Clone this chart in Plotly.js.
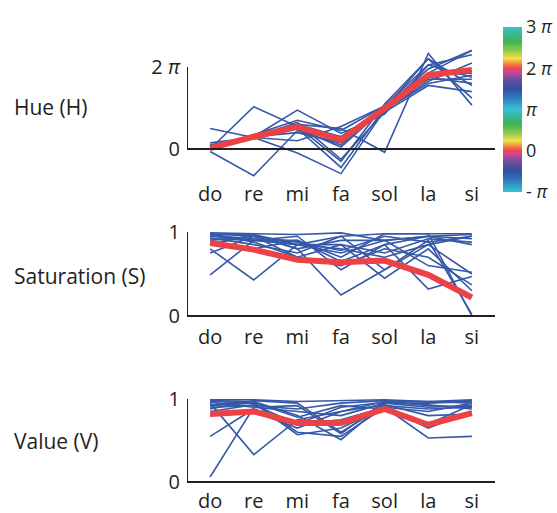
<!DOCTYPE html>
<html>
<head>
<meta charset="utf-8">
<script src="https://cdn.plot.ly/plotly-3.0.1.min.js"></script>
<style>html,body{margin:0;padding:0;background:#fff;}#chart{width:557px;height:513px;}</style>
</head>
<body>
<div id="chart"></div>
<script>
// ---- data ----
const notes = ['do', 're', 'mi', 'fa', 'sol', 'la', 'si'];

// Hue values in units of pi
const hueLines = [
  [0.00, 1.03, 0.55, 0.30, 1.00, 2.20, 1.55],
  [-0.06, -0.65, 0.45, 0.10, 1.02, 1.95, 2.41],
  [0.50, 0.28, -0.10, -0.60, 0.95, 1.60, 1.80],
  [0.05, 0.30, 0.95, 0.38, 0.85, 2.05, 2.30],
  [0.10, 0.25, 0.60, 0.50, -0.08, 2.33, 1.07],
  [0.02, 0.25, 0.50, -0.45, 1.00, 1.70, 1.70],
  [0.15, 0.28, 0.65, -0.25, 0.90, 1.55, 1.40],
  [0.00, 0.35, 0.70, 0.45, 1.05, 1.85, 2.40],
  [0.03, 0.30, 0.40, 0.15, 0.95, 1.75, 1.60],
  [0.00, 0.32, 0.55, -0.30, 1.10, 2.20, 1.24],
  [0.05, 0.25, 0.60, 0.30, 0.95, 1.65, 2.10],
  [0.00, 0.30, 0.50, 0.05, 1.00, 1.80, 1.85],
  [0.02, 0.28, 0.20, 0.55, 1.05, 2.05, 1.75]
];
const hueMean = [0.02, 0.30, 0.54, 0.22, 0.99, 1.80, 1.93];

const satLines = [
  [0.49, 0.90, 0.85, 0.75, 0.90, 0.95, 0.97],
  [0.80, 0.43, 0.85, 0.80, 0.70, 0.85, 0.95],
  [0.98, 0.95, 0.80, 0.25, 0.55, 0.85, 0.50],
  [0.95, 0.90, 0.90, 0.65, 0.85, 0.32, 0.47],
  [0.97, 0.97, 0.85, 0.95, 0.98, 0.98, 0.98],
  [0.93, 0.85, 0.75, 0.95, 0.55, 0.90, 0.02],
  [0.90, 0.95, 0.70, 0.60, 0.80, 0.70, 0.37],
  [0.99, 0.98, 0.97, 0.99, 0.90, 0.95, 0.85],
  [0.88, 0.80, 0.90, 0.70, 0.98, 0.98, 0.00],
  [0.96, 0.92, 0.85, 0.85, 0.45, 0.80, 0.30],
  [0.92, 0.90, 0.95, 0.55, 0.85, 0.95, 0.92],
  [0.85, 0.97, 0.80, 0.90, 0.90, 0.60, 0.52],
  [0.98, 0.88, 0.70, 0.85, 0.75, 0.92, 0.88],
  [0.75, 0.95, 0.88, 0.78, 0.95, 0.88, 0.95]
];
const satMean = [0.87, 0.79, 0.67, 0.64, 0.66, 0.49, 0.22];

const valLines = [
  [0.06, 0.90, 0.85, 0.80, 0.95, 0.90, 0.92],
  [0.55, 0.88, 0.70, 0.75, 0.90, 0.85, 0.95],
  [0.95, 0.33, 0.75, 0.85, 0.97, 0.92, 0.90],
  [0.97, 0.95, 0.57, 0.65, 0.90, 0.53, 0.55],
  [0.98, 0.97, 0.80, 0.51, 0.95, 0.95, 0.97],
  [0.92, 0.95, 0.60, 0.55, 0.90, 0.65, 0.85],
  [0.90, 0.92, 0.88, 0.95, 0.98, 0.96, 0.98],
  [0.88, 0.98, 0.95, 0.60, 0.92, 0.88, 0.90],
  [0.85, 0.93, 0.70, 0.90, 0.96, 0.93, 0.88],
  [0.96, 0.90, 0.92, 0.58, 0.97, 0.97, 0.95],
  [0.93, 0.96, 0.78, 0.92, 0.88, 0.70, 0.93],
  [0.99, 0.99, 0.97, 0.98, 0.99, 0.97, 0.99],
  [0.80, 0.85, 0.65, 0.85, 0.93, 0.80, 0.82]
];
const valMean = [0.82, 0.85, 0.71, 0.71, 0.88, 0.69, 0.83];

const hueTickVals = [0, 2];
const hueTickText = ['0', '2 <i>π</i>'];
const unitTickVals = [0, 1];
const unitTickText = ['0', '1'];
const cbTickVals = [-1, 0, 1, 2, 3];
const cbTickText = ['- <i>π</i>', '0', '<i>π</i>', '2 <i>π</i>', '3 <i>π</i>'];
const panelLabels = ['Hue (H)', 'Saturation (S)', 'Value (V)'];

// ---- styling ----
const BLUE = '#3558a8';
const RED = '#ec4145';
const AX = '#231f20';
const FONT = 'Open Sans, sans-serif';
const xIdx = notes.map((_, i) => i);

const traces = [];
function addPanel(lines, mean, xa, ya) {
  lines.forEach(l => traces.push({
    x: xIdx, y: l, xaxis: xa, yaxis: ya, type: 'scatter', mode: 'lines',
    line: {color: BLUE, width: 1.6}, hoverinfo: 'skip', showlegend: false
  }));
  traces.push({
    x: xIdx, y: mean, xaxis: xa, yaxis: ya, type: 'scatter', mode: 'lines',
    line: {color: RED, width: 6}, hoverinfo: 'skip', showlegend: false
  });
}
addPanel(hueLines, hueMean, 'x', 'y');
addPanel(satLines, satMean, 'x2', 'y2');
addPanel(valLines, valMean, 'x3', 'y3');

// colorbar dummy trace
traces.push({
  x: [null], y: [null], type: 'scatter', mode: 'markers', xaxis: 'x', yaxis: 'y',
  hoverinfo: 'skip', showlegend: false,
  marker: {
    color: [-1, 3], cmin: -1, cmax: 3, showscale: true,
    colorscale: [
      [0.000, '#36c2d6'],
      [0.083, '#2f6fb8'],
      [0.125, '#3050a0'],
      [0.180, '#6a4fa0'],
      [0.210, '#a04a9c'],
      [0.235, '#e0428e'],
      [0.250, '#ea4550'],
      [0.280, '#f29040'],
      [0.310, '#f2e04a'],
      [0.360, '#8cc850'],
      [0.410, '#3fb44e'],
      [0.460, '#38b89a'],
      [0.500, '#36c2d6'],
      [0.583, '#2f6fb8'],
      [0.625, '#3050a0'],
      [0.680, '#6a4fa0'],
      [0.710, '#a04a9c'],
      [0.735, '#e0428e'],
      [0.750, '#ea4550'],
      [0.780, '#f29040'],
      [0.810, '#f2e04a'],
      [0.860, '#8cc850'],
      [0.910, '#3fb44e'],
      [0.960, '#38b89a'],
      [1.000, '#45c0c0']
    ],
    colorbar: {
      x: 503 / 557, xanchor: 'left', xref: 'paper',
      y: 1 - 109.5 / 513, yanchor: 'middle',
      len: 165, lenmode: 'pixels', thickness: 19, thicknessmode: 'pixels',
      outlinewidth: 0, ticks: '', tickvals: cbTickVals, ticktext: cbTickText,
      tickfont: {family: FONT, size: 18, color: AX}, ypad: 0, xpad: 0
    }
  }
});

const TICKSZ = 20;
const xBase = {
  range: [-0.53, 6.53], domain: [187 / 557, 495 / 557],
  tickvals: xIdx, ticktext: notes, ticks: '', showgrid: false, zeroline: false,
  showline: false, tickfont: {family: FONT, size: TICKSZ, color: AX}, fixedrange: true
};
const yBase = {
  ticks: '', showgrid: false, zeroline: false, showline: false,
  tickfont: {family: FONT, size: TICKSZ, color: AX}, ticklabelstandoff: 6, fixedrange: true
};

const layout = {
  width: 557, height: 513,
  margin: {l: 0, r: 0, t: 0, b: 0},
  paper_bgcolor: '#fff', plot_bgcolor: 'rgba(0,0,0,0)',
  font: {family: FONT, color: AX},
  xaxis: Object.assign({}, xBase, {anchor: 'y', ticklabelstandoff: 0}),
  xaxis2: Object.assign({}, xBase, {anchor: 'y2', ticklabelstandoff: 4}),
  xaxis3: Object.assign({}, xBase, {anchor: 'y3', ticklabelstandoff: 2}),
  yaxis: Object.assign({}, yBase, {anchor: 'x', range: [-0.75, 2.5],
    domain: [1 - 179.75 / 513, 1 - 46.5 / 513], tickvals: hueTickVals, ticktext: hueTickText}),
  yaxis2: Object.assign({}, yBase, {anchor: 'x2', range: [-0.03, 1.03],
    domain: [1 - 318.5 / 513, 1 - 229.5 / 513], tickvals: unitTickVals, ticktext: unitTickText}),
  yaxis3: Object.assign({}, yBase, {anchor: 'x3', range: [-0.03, 1.03],
    domain: [1 - 484.5 / 513, 1 - 396.5 / 513], tickvals: unitTickVals, ticktext: unitTickText}),
  shapes: [
    {type: 'line', xref: 'x', yref: 'y', x0: -0.53, x1: 6.53, y0: 0, y1: 0, line: {color: AX, width: 2}},
    {type: 'line', xref: 'x', yref: 'y', x0: -0.53, x1: -0.53, y0: 0, y1: 2, line: {color: AX, width: 2}},
    {type: 'line', xref: 'x2', yref: 'y2', x0: -0.53, x1: 6.53, y0: 0, y1: 0, line: {color: AX, width: 2}},
    {type: 'line', xref: 'x2', yref: 'y2', x0: -0.53, x1: -0.53, y0: 0, y1: 1, line: {color: AX, width: 2}},
    {type: 'line', xref: 'x3', yref: 'y3', x0: -0.53, x1: 6.53, y0: 0, y1: 0, line: {color: AX, width: 2}},
    {type: 'line', xref: 'x3', yref: 'y3', x0: -0.53, x1: -0.53, y0: 0, y1: 1, line: {color: AX, width: 2}}
  ],
  annotations: [
    {text: panelLabels[0], xref: 'paper', yref: 'paper', x: 12 / 557, y: 1 - 107 / 513, xanchor: 'left', yanchor: 'middle', showarrow: false, font: {family: FONT, size: 21, color: AX}},
    {text: panelLabels[1], xref: 'paper', yref: 'paper', x: 12 / 557, y: 1 - 276 / 513, xanchor: 'left', yanchor: 'middle', showarrow: false, font: {family: FONT, size: 21, color: AX}},
    {text: panelLabels[2], xref: 'paper', yref: 'paper', x: 12 / 557, y: 1 - 441 / 513, xanchor: 'left', yanchor: 'middle', showarrow: false, font: {family: FONT, size: 21, color: AX}}
  ]
};

Plotly.newPlot('chart', traces, layout, {displayModeBar: false, staticPlot: true});
</script>
</body>
</html>
